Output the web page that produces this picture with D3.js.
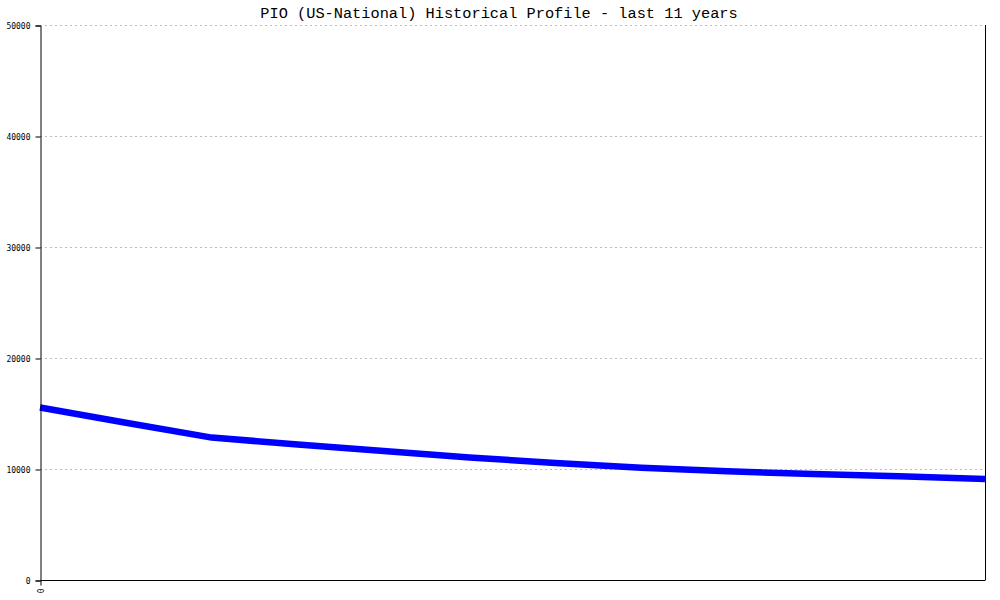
<!DOCTYPE html>
<html>
<head>
<meta charset="utf-8">
<script src="https://cdn.jsdelivr.net/npm/d3@7"></script>
<style>
  html, body { margin: 0; padding: 0; background: #fff; }
  svg { display: block; }
</style>
</head>
<body>
<svg id="chart" width="1000" height="600"></svg>
<script>
// ---- data ----
const titleText = "PIO (US-National) Historical Profile - last 11 years";
const pointIndex = [0, 1, 2, 3, 4, 5, 6, 7, 8, 9, 10, 11];
const values = [15540, 14160, 12830, 12210, 11620, 11040, 10540, 10110, 9790, 9550, 9340, 9100];
const yTicks = [0, 10000, 20000, 30000, 40000, 50000];
const xTickLabels = ["0"];

// ---- layout ----
const W = 1000, H = 600;
const m = { left: 40, right: 15, top: 25, bottom: 20 };
const svg = d3.select("#chart");

const x = d3.scaleLinear().domain([0, pointIndex.length - 1]).range([m.left, W - m.right]);
const y = d3.scaleLinear().domain([0, 50000]).range([H - m.bottom, m.top]);

// title
svg.append("text")
  .attr("x", 499).attr("y", 18)
  .attr("text-anchor", "middle")
  .attr("font-family", "'Liberation Mono', 'DejaVu Sans Mono', monospace")
  .attr("font-size", "15.3px")
  .attr("fill", "#000")
  .text(titleText);

// gridlines
svg.append("g")
  .selectAll("line")
  .data(yTicks.filter(d => d > 0))
  .join("line")
  .attr("x1", m.left).attr("x2", W - m.right)
  .attr("y1", d => Math.round(y(d)) + 0.5).attr("y2", d => Math.round(y(d)) + 0.5)
  .attr("stroke", "#bdbdbd")
  .attr("stroke-width", 1)
  .attr("stroke-dasharray", "2,3");

// line
const line = d3.line()
  .x((d, i) => x(pointIndex[i]))
  .y(d => y(d));
svg.append("path")
  .datum(values)
  .attr("d", line)
  .attr("fill", "none")
  .attr("stroke", "#0000ff")
  .attr("stroke-width", 6.5)
  .attr("stroke-linejoin", "round");

// y axis
const yAxis = d3.axisLeft(y).tickValues(yTicks).tickSize(5).tickPadding(5).tickFormat(d3.format("d"));
const gy = svg.append("g").attr("transform", `translate(${m.left + 0.5},0.5)`).call(yAxis);
gy.select(".domain").attr("stroke", "#000");
gy.selectAll(".tick line").attr("stroke", "#000");
gy.selectAll(".tick text")
  .attr("font-family", "'DejaVu Sans Mono', monospace")
  .attr("font-size", "8px")
  .attr("fill", "#000");

// x axis
const xAxis = d3.axisBottom(x).tickValues([0]).tickSize(5).tickFormat((d, i) => xTickLabels[i]);
const gx = svg.append("g").attr("transform", `translate(0.5,${H - m.bottom + 0.5})`).call(xAxis);
gx.select(".domain").attr("stroke", "#000").attr("d", `M${m.left},0H${W - m.right}`);
gx.selectAll(".tick line").attr("stroke", "#000");
gx.selectAll(".tick text")
  .attr("font-family", "'DejaVu Sans Mono', monospace")
  .attr("font-size", "8px")
  .attr("fill", "#000")
  .attr("transform", "rotate(-90)")
  .attr("text-anchor", "end")
  .attr("x", -8).attr("y", 0).attr("dy", "0.32em");

// right border
svg.append("line")
  .attr("x1", W - m.right + 0.5).attr("x2", W - m.right + 0.5)
  .attr("y1", m.top).attr("y2", H - m.bottom)
  .attr("stroke", "#000");
</script>
</body>
</html>
